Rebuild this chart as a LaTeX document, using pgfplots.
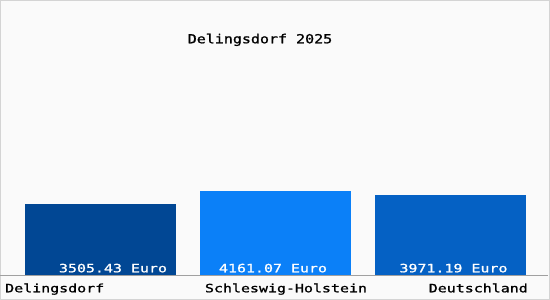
\documentclass[border=0pt]{standalone}
\usepackage{fontspec}
\usepackage{pgfplots}
\pgfplotsset{compat=1.18}
\newfontfamily\mono[FakeStretch=1.3,FakeBold=1.2]{DejaVu Sans Mono}
\newfontfamily\monot[FakeStretch=1.2,FakeBold=1.2]{DejaVu Sans Mono}
\definecolor{bgc}{HTML}{FAFAFA}
\definecolor{brd}{HTML}{D4D4D4}
\definecolor{basel}{HTML}{A0A0A0}
\definecolor{cA}{HTML}{014794}
\definecolor{cB}{HTML}{0B80F8}
\definecolor{cC}{HTML}{0561C4}
\begin{document}
\begin{tikzpicture}
\useasboundingbox (0,-25bp) rectangle (550bp,275bp);
\fill[bgc] (0,-25bp) rectangle (550bp,275bp);
\draw[brd, line width=1bp] (0.5bp,-24.5bp) rectangle (549.5bp,274.5bp);
\begin{axis}[
  at={(0,0)}, anchor=south west,
  scale only axis, width=550bp, height=255bp,
  xmin=0, xmax=550, ymin=0, ymax=12620,
  hide axis, clip=false,
  ybar, bar width=151bp,
]
\addplot[fill=cA, draw=none, bar shift=0pt] coordinates {(100.5,3505.43)};
\addplot[fill=cB, draw=none, bar shift=0pt] coordinates {(275.5,4161.07)};
\addplot[fill=cC, draw=none, bar shift=0pt] coordinates {(450.5,3971.19)};
\end{axis}
\draw[basel, line width=1bp] (0,-0.5bp) -- (548bp,-0.5bp);
\node[anchor=base, text=white, inner sep=0pt, font=\mono\fontsize{11.5bp}{12bp}\selectfont] at (113bp,2.7bp) {3505.43 Euro};
\node[anchor=base, text=white, inner sep=0pt, font=\mono\fontsize{11.5bp}{12bp}\selectfont] at (273bp,2.7bp) {4161.07 Euro};
\node[anchor=base, text=white, inner sep=0pt, font=\mono\fontsize{11.5bp}{12bp}\selectfont] at (453.5bp,2.7bp) {3971.19 Euro};
\node[anchor=base west, inner sep=0pt, font=\mono\fontsize{11.5bp}{12bp}\selectfont] at (5bp,-17.3bp) {Delingsdorf};
\node[anchor=base, inner sep=0pt, font=\mono\fontsize{11.5bp}{12bp}\selectfont] at (286bp,-17.3bp) {Schleswig-Holstein};
\node[anchor=base east, inner sep=0pt, font=\mono\fontsize{11.5bp}{12bp}\selectfont] at (528bp,-17.3bp) {Deutschland};
\node[anchor=base, inner sep=0pt, font=\monot\fontsize{12.5bp}{13bp}\selectfont] at (260bp,231.7bp) {Delingsdorf 2025};
\end{tikzpicture}
\end{document}
